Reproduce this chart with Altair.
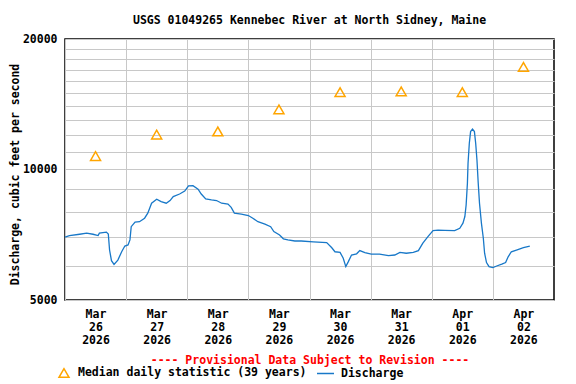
import altair as alt
import pandas as pd

# ---- data ----
# hours since 2026-03-26 00:00 and discharge (cfs)
hours = [0, 1.75, 5.75, 8.5, 11, 13, 13.5, 16.25, 17, 17.5, 18.25, 19.25, 20.75,
         22.25, 23.5, 24.75, 25.5, 26, 27.5, 29.25, 31.25, 32.5, 34, 36, 37.75,
         39.75, 41.25, 42.5, 45, 47, 48.5, 50.25, 52.25, 53.5, 55.25, 57.5, 59.5,
         61.5, 64, 65.25, 66.5, 69.25, 72, 73.75, 75.75, 78.5, 80.75, 82, 84.25,
         85.75, 87.5, 90.25, 92.75, 97.5, 102.75, 104.75, 106, 108, 109.25, 110.25,
         111.25, 112.5, 114.5, 115.75, 117.75, 120.25, 123.5, 127, 129.5, 131.5,
         134, 136.75, 138.75, 140.5, 142.5, 144.5, 146.5, 149, 153, 155, 156.25,
         157, 157.5, 158, 158.25, 158.75, 159.25, 160, 160.75, 161.25, 161.75,
         162.25, 162.75, 163.5, 164.25, 164.75, 165.5, 166.5, 168, 169.5, 171.5,
         173, 174, 175.25, 177.25, 180, 182.5]
discharge = [6980, 7040, 7090, 7130, 7090, 7040, 7130, 7170, 7100, 6520, 6160, 6040, 6180,
             6460, 6660, 6700, 6880, 7380, 7560, 7580, 7720, 7930, 8360, 8540, 8430,
             8360, 8480, 8660, 8780, 8920, 9170, 9180, 9010, 8780, 8550, 8510, 8480,
             8360, 8320, 8180, 7930, 7890, 7830, 7720, 7580, 7480, 7380, 7190, 7060,
             6920, 6880, 6840, 6840, 6810, 6780, 6600, 6460, 6440, 6240, 5970,
             6130, 6350, 6390, 6500, 6430, 6380, 6380, 6330, 6350, 6440,
             6410, 6440, 6500, 6760, 7000, 7230, 7250, 7240, 7230, 7320, 7520,
             7790, 8280, 9300, 10340, 11500, 12230, 12390, 12230, 11500, 10520,
             9300, 8360, 7520, 6940, 6410, 6100, 5970, 5940, 5990, 6050,
             6100, 6290, 6460, 6520, 6600, 6660]

median_days = ["2026-03-26", "2026-03-27", "2026-03-28", "2026-03-29",
               "2026-03-30", "2026-03-31", "2026-04-01", "2026-04-02"]
median_cfs = [10740, 12040, 12240, 13760, 15080, 15140, 15080, 17250]

day_ticks = [(3, 26), (3, 27), (3, 28), (3, 29), (3, 30), (3, 31), (4, 1), (4, 2)]
y_grid = list(range(5000, 20001, 1000))
y_labeled = [5000, 10000, 20000]

title_text = "USGS 01049265 Kennebec River at North Sidney, Maine"
y_title = "Discharge, cubic feet per second"
note_text = "---- Provisional Data Subject to Revision ----"
median_label = "Median daily statistic (39 years)"
line_label = "Discharge"

FONT = "DejaVu Sans Mono"
FS = 11.5
BLUE = "#1878C8"
ORANGE = "#FFA500"

start = pd.Timestamp("2026-03-26")
line_df = pd.DataFrame({
    "t": [(start + pd.Timedelta(hours=h)).strftime("%Y-%m-%dT%H:%M:%S") for h in hours],
    "v": discharge,
    "s": line_label,
})
med_df = pd.DataFrame({
    "t": [d + "T12:00:00" for d in median_days],
    "v": median_cfs,
    "m": median_label,
})

x_scale = alt.Scale(domain=[alt.DateTime(year=2026, month=3, date=26),
                            alt.DateTime(year=2026, month=4, date=3)])
y_scale = alt.Scale(type="log", domain=[5000, 20000])

x_axis = alt.Axis(
    values=[alt.DateTime(year=2026, month=m, date=d) for m, d in day_ticks],
    labelExpr="[timeFormat(datum.value, '%b'), timeFormat(datum.value, '%d'), timeFormat(datum.value, '%Y')]",
    labelOffset=30.5, labelLineHeight=13, labelPadding=8, labelFlush=False, labelOverlap=False,
    ticks=False, domain=False,
    grid=True, gridColor="#C8C8C8", gridWidth=1,
    title=note_text, titleColor="#FF0000", titlePadding=9,
    labelFont=FONT, labelFontSize=FS, labelFontWeight="bold", labelColor="black",
    titleFont=FONT, titleFontSize=FS, titleFontWeight="bold",
)
y_axis = alt.Axis(
    values=y_grid,
    labelExpr="(datum.value == 5000 || datum.value == 10000 || datum.value == 20000) ? format(datum.value, 'd') : ''",
    ticks=False, domain=False, grid=True, gridColor="#C8C8C8", gridWidth=1,
    labelPadding=8, labelFont=FONT, labelFontSize=FS, labelFontWeight="bold", labelColor="black",
    title=y_title, titleFont=FONT, titleFontSize=FS, titleFontWeight="bold",
    titleX=-50, titleY=135, titleBaseline="middle", titleAlign="center", titleAngle=270,
)

line = alt.Chart(line_df).mark_line(strokeWidth=1.3, interpolate="linear").encode(
    x=alt.X("t:T", scale=x_scale, axis=x_axis),
    y=alt.Y("v:Q", scale=y_scale, axis=y_axis),
    color=alt.Color("s:N", scale=alt.Scale(domain=[line_label], range=[BLUE]),
                    legend=alt.Legend(title=None, orient="none", legendX=251, legendY=325,
                                      symbolType="stroke", symbolSize=289, symbolStrokeWidth=1.5,
                                      labelOffset=6, padding=0, labelLimit=300,
                                      labelFont=FONT, labelFontSize=FS, labelFontWeight="bold",
                                      labelColor="black")),
)

points = alt.Chart(med_df).mark_point(filled=False, color=ORANGE, size=100, strokeWidth=1.5,
                                      shape="triangle-up", opacity=1).encode(
    x=alt.X("t:T", scale=x_scale),
    y=alt.Y("v:Q", scale=y_scale),
    shape=alt.Shape("m:N", scale=alt.Scale(domain=[median_label], range=["triangle-up"]),
                    legend=alt.Legend(title=None, orient="none", legendX=-7, legendY=328,
                                      symbolSize=100, symbolStrokeColor=ORANGE,
                                      symbolFillColor="transparent", symbolStrokeWidth=1.5,
                                      symbolOpacity=1,
                                      labelOffset=8, padding=0, labelLimit=300,
                                      labelFont=FONT, labelFontSize=FS, labelFontWeight="bold",
                                      labelColor="black")),
)

chart = alt.layer(points, line).properties(
    width=489, height=261,
    autosize=alt.AutoSizeParams(type="none"),
    padding={"left": 57, "top": 31, "right": 14, "bottom": 80},
    title=alt.TitleParams(text=title_text, font=FONT, fontSize=FS, fontWeight="bold",
                          anchor="middle", frame="group", offset=7, color="black"),
    background="white",
).configure_view(stroke="black", strokeWidth=1.5)

chart.save("out.html", embed_options={"renderer": "svg", "actions": False})
